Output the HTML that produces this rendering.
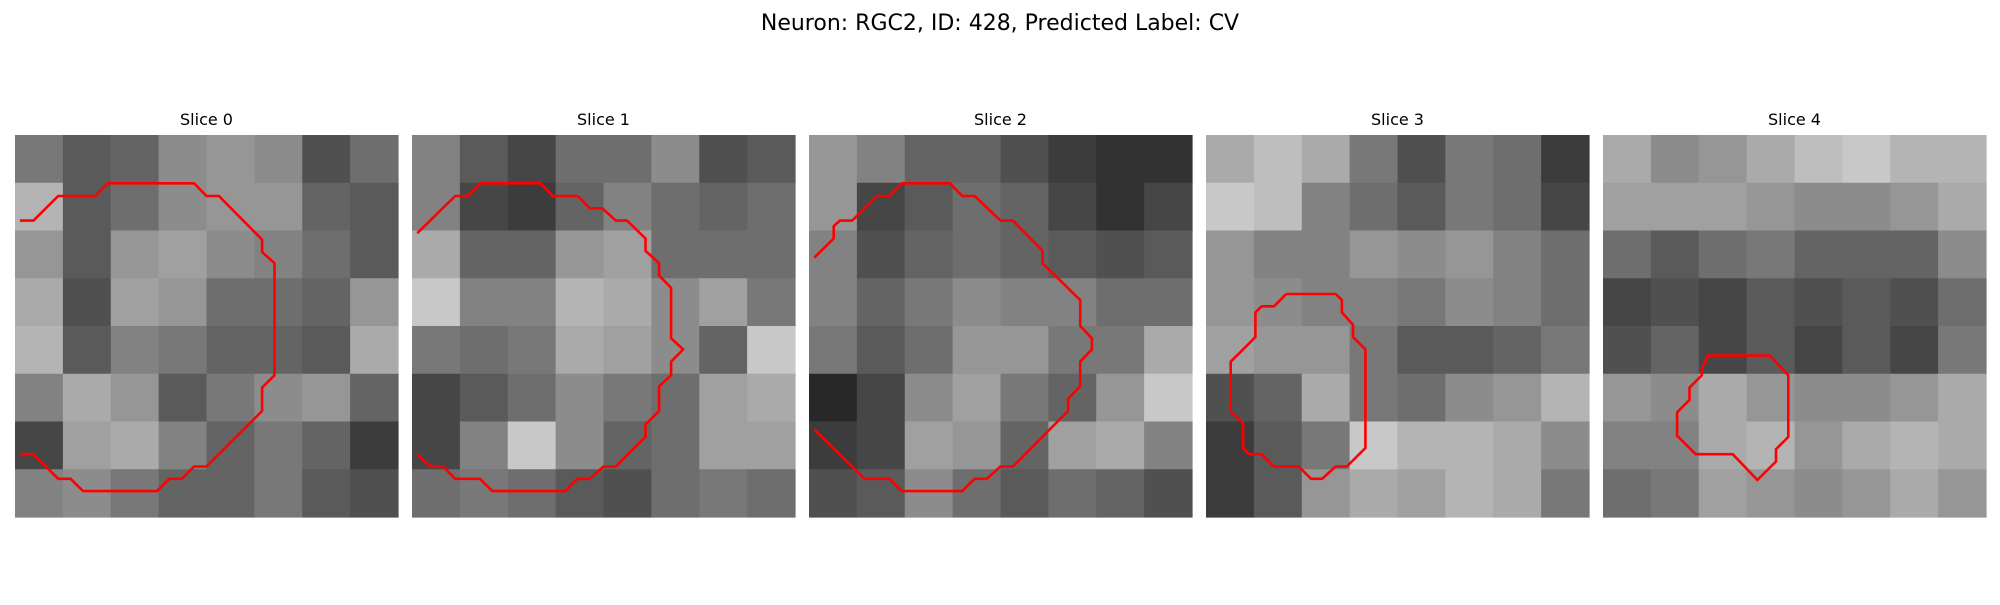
<!DOCTYPE html>
<html><head><meta charset="utf-8"><style>
body{margin:0;background:#fff;width:2000px;height:600px;overflow:hidden;font-family:"Liberation Sans","DejaVu Sans",sans-serif}
</style></head><body>
<svg id="fig" width="2000" height="600" xmlns="http://www.w3.org/2000/svg">
<text x="1000" y="30" text-anchor="middle" font-size="22" font-family="DejaVu Sans, Liberation Sans, sans-serif">Neuron: RGC2, ID: 428, Predicted Label: CV</text>
</svg>
<script>
const sliceTitles = ["Slice 0","Slice 1","Slice 2","Slice 3","Slice 4"];
const gray0 = [[120,90,100,140,150,140,80,110],[180,90,110,140,150,150,100,90],[150,90,150,160,140,130,110,90],[170,80,160,150,110,110,100,150],[180,90,130,120,100,100,90,170],[130,170,150,90,120,140,150,100],[70,160,170,130,100,120,100,60],[130,140,120,100,100,120,90,80]];
const gray1 = [[130,90,70,110,110,140,80,90],[130,70,60,100,130,110,100,110],[170,100,100,150,160,110,110,110],[200,130,130,180,170,140,160,120],[120,110,120,170,160,140,100,200],[70,90,110,140,120,110,160,170],[70,130,200,140,100,110,160,160],[110,120,110,90,80,110,120,110]];
const gray2 = [[150,130,100,100,80,60,50,50],[150,70,90,110,100,70,50,70],[130,80,100,110,100,90,80,90],[130,100,120,140,130,130,110,110],[120,90,110,150,150,120,120,170],[40,70,140,160,120,100,150,200],[60,70,160,150,100,160,170,130],[80,90,140,110,90,110,100,80]];
const gray3 = [[170,190,170,120,80,120,110,60],[200,190,130,110,90,120,110,70],[150,130,130,150,140,150,130,110],[150,140,130,130,120,140,130,110],[160,150,150,120,90,90,100,120],[80,100,170,120,110,140,150,180],[60,90,120,200,180,180,170,140],[60,90,150,170,160,180,170,120]];
const gray4 = [[170,140,150,170,190,200,180,180],[160,160,160,150,140,140,150,170],[110,90,110,120,100,100,100,140],[70,80,70,90,80,90,80,110],[80,100,70,90,70,90,70,120],[150,140,170,150,140,140,150,170],[130,130,170,180,150,170,180,170],[110,120,160,150,140,150,170,150]];
const contour0 = [[0.4,6.95],[1.5,6.95],[3.5,4.95],[6.5,4.95],[7.5,3.92],[14.5,3.92],[15.5,4.95],[16.5,4.95],[20,8.5],[20,9.5],[21,10.4],[21,19.5],[20,20.5],[20,22.4],[15.5,26.9],[14.5,26.9],[13.5,27.9],[12.5,27.9],[11.5,28.9],[5.5,28.9],[4.5,27.9],[3.5,27.9],[1.5,25.9],[0.4,25.9]];
const contour1 = [[0.43,7.97],[3.5,4.95],[4.5,4.95],[5.5,3.92],[10.4,3.92],[11.4,4.95],[13.4,4.95],[14.4,5.95],[15.4,5.95],[16.5,6.95],[17.4,6.95],[18.9,8.4],[18.9,9.4],[20,10.4],[20,11.4],[20.97,12.4],[20.97,16.5],[21.95,17.4],[20.97,18.4],[20.97,19.5],[20,20.4],[20,22.4],[18.9,23.5],[18.9,24.5],[16.5,26.9],[15.5,26.9],[14.4,27.9],[13.4,27.9],[12.4,28.9],[6.5,28.9],[5.5,27.9],[3.5,27.9],[2.5,26.9],[1.5,26.9],[0.43,25.9]];
const contour2 = [[0.43,9.95],[2,8.4],[2,7.4],[2.5,6.95],[3.5,6.95],[5.5,4.95],[6.5,4.95],[7.5,3.92],[11.4,3.92],[12.4,4.95],[13.4,4.95],[15.5,6.95],[16.5,6.95],[18.9,9.4],[18.9,10.4],[21.95,13.4],[21.95,15.5],[22.9,16.5],[22.9,17.4],[21.95,18.4],[21.95,20.4],[20.97,21.4],[20.97,22.4],[16.5,26.9],[15.5,26.9],[14.4,27.9],[13.4,27.9],[12.4,28.9],[7.5,28.9],[6.5,27.9],[4.5,27.9],[0.43,23.9]];
const contour3 = [[6.5,12.9],[10.5,12.9],[11,13.4],[11,14.4],[11.9,15.4],[11.9,16.4],[12.9,17.4],[12.9,25.4],[11.4,26.9],[10.5,26.9],[9.4,27.9],[8.5,27.9],[7.5,26.9],[5.5,26.9],[4.5,25.9],[3.5,25.9],[3,25.4],[3,23.4],[2,22.4],[2,18.4],[3,17.4],[4,16.4],[4,14.4],[4.5,13.9],[5.5,13.9],[6.5,12.9]];
const contour4 = [[8.5,17.9],[13.5,17.9],[15,19.5],[15,24.5],[14,25.5],[14,26.5],[12.5,28],[10.5,25.9],[7.5,25.9],[6,24.4],[6,22.5],[7,21.5],[7,20.5],[8,19.5],[8,19],[8.5,17.9]];

const grays=[gray0,gray1,gray2,gray3,gray4];
const contours=[contour0,contour1,contour2,contour3,contour4];
const NS="http://www.w3.org/2000/svg";
const svg=document.getElementById('fig');
const X0=[15,412,809,1206,1603], Y0=135, W=383, H=382, GRID=31;
function mk(t,a){const e=document.createElementNS(NS,t);for(const k in a)e.setAttribute(k,a[k]);return e;}
for(let p=0;p<5;p++){
  const g=mk('g',{});
  
  
  svg.appendChild(g);
  const t=mk('text',{x:X0[p]+W/2,y:Y0-10,'text-anchor':'middle','font-size':'16','font-family':'DejaVu Sans, Liberation Sans, sans-serif'});
  t.textContent=sliceTitles[p];
  
  
  g.appendChild(t);
  const data=grays[p], n=data.length, m=data[0].length;
  const cw=W/m, ch=H/n;
  for(let r=0;r<n;r++)for(let c=0;c<m;c++){
    const v=data[r][c];
    const rc=mk('rect',{x:X0[p]+c*cw,y:Y0+r*ch,width:cw+0.6,height:ch+0.6,fill:`rgb(${v},${v},${v})`});
    
    
    g.appendChild(rc);
  }
  const pts=contours[p].map(q=>(X0[p]+q[0]*W/GRID).toFixed(1)+','+(Y0+q[1]*H/GRID).toFixed(1)).join(' ');
  const pl=mk('polyline',{points:pts,fill:'none',stroke:'#ff0000','stroke-width':'2.6','stroke-linejoin':'round'});
  
  
  g.appendChild(pl);
}
</script>
</body></html>
